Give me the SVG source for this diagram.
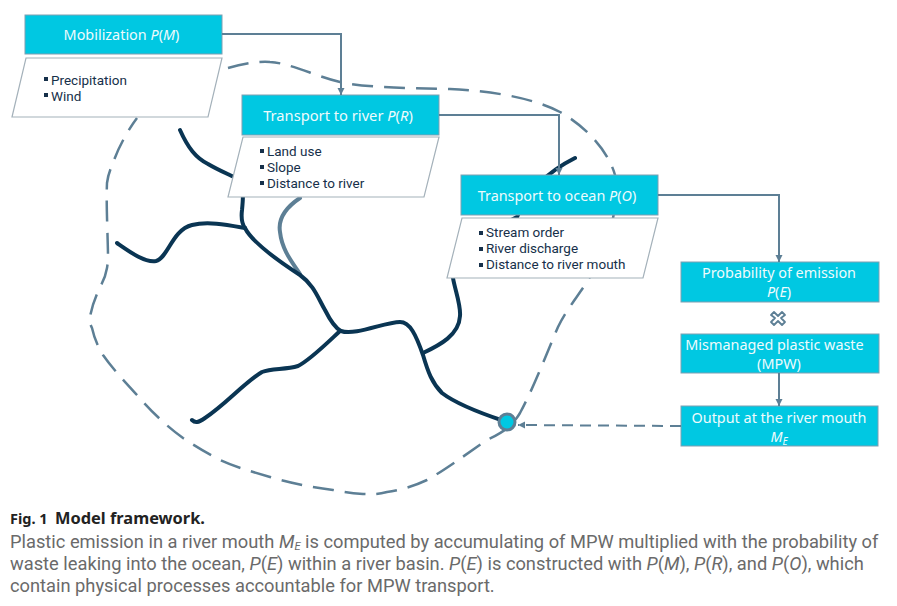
<svg xmlns="http://www.w3.org/2000/svg" width="897" height="606" viewBox="0 0 897 606">
<style>
text{font-family:"Noto Sans","Open Sans","DejaVu Sans",sans-serif}
.box{fill:#00c8e2;stroke:#7f9fb2;stroke-width:1}
.para{fill:#fff;stroke:#a4b1ba;stroke-width:1.2}
.t{fill:#eefbfd;font-size:14.4px;text-anchor:middle}
.li{fill:#16304a;font-family:Roboto,"Noto Sans",sans-serif;font-size:13.5px}
.b{fill:#16304a}
.river{fill:none;stroke:#0a3553;stroke-width:4;stroke-linecap:round;stroke-linejoin:round}
.cap{font-family:Roboto,"Liberation Sans",sans-serif;font-size:18.3px;fill:#6a6a6a}
.conn{fill:none;stroke:#5d7f95;stroke-width:2}
</style>
<defs>
<marker id="a" markerUnits="userSpaceOnUse" markerWidth="8" markerHeight="8" refX="7" refY="4" orient="auto"><path d="M0 0.5L7 4L0 7.5Z" fill="#5d7f95"/></marker>
</defs>
<rect width="897" height="606" fill="#fff"/>
<g id="basin">
<path class="conn" style="stroke-width:2.5" stroke-dasharray="21 11" d="M228 68C242 64 258 61 270 62C290 63 315 76 340 82C362 87 400 88 450 89C480 90 530 96 560 112C585 126 608 150 615 175C620 215 605 250 587 282C575 300 565 312 558 327C548 350 535 385 520 413C510 430 495 436 487 440C465 455 445 470 427 480C410 488 395 491 387 492C375 495 370 494 363 494C350 493 345 492 333 490C310 487 290 483 270 477C250 471 235 467 220 460C205 452 195 446 183 438C165 425 150 410 137 395C125 382 112 368 103 355C97 345 94 337 92 328C89 322 89 320 90 317C92 305 96 296 100 287C104 280 106 274 107 268C108 262 108 258 108 257C108 240 106 205 107 183C108 175 110 170 113 163C118 148 128 130 137 118"/>
</g>
<g id="rivers">
<path class="river" style="stroke:#5d7f95" d="M300 198C285 208 278 220 280 232C282 250 292 262 300 274"/>
<path class="river" d="M180 130C188 148 196 158 208 164C218 170 228 174 240 180C244 190 243 200 242 210C241 218 242 224 245 228C252 242 280 262 300 275C314 285 318 298 325 310C330 320 335 328 341 331C355 336 385 322 400 322C410 322 416 335 423 355C428 372 432 383 442 393C455 403 480 413 504 421"/>
<path class="river" d="M117 243C130 252 145 263 156 261C168 258 172 230 192 225C208 221 228 225 245 228"/>
<path class="river" d="M340 331C325 345 310 360 298 366C285 370 272 368 262 372C245 382 225 405 205 418C198 423 195 423 192 420"/>
<path class="river" d="M575 158C555 168 530 185 517 217C480 235 452 265 453 278C455 290 461 305 460 316C459 335 440 345 423 353"/>
</g>
<g id="n1">
<rect class="box" x="25" y="15" width="197" height="39"/>
<text class="t" x="121.500" y="40">Mobilization <tspan font-style="italic">P</tspan>(<tspan font-style="italic">M</tspan>)</text>
</g>
<g id="n1b">
<polygon class="para" points="26,58 222,58 208,117 12,117"/>
<rect class="b" x="44" y="77" width="4" height="4"/>
<rect class="b" x="44" y="93" width="4" height="4"/>
<text class="li" x="51" y="85">Precipitation</text>
<text class="li" x="51" y="101">Wind</text>
</g>
<g id="n2">
<rect class="box" x="242" y="95" width="197" height="40"/>
<text class="t" x="338" y="121" style="font-size:14.7px">Transport to river <tspan font-style="italic">P</tspan>(<tspan font-style="italic">R</tspan>)</text>
</g>
<g id="n2b">
<polygon class="para" points="243,137 439,137 424,197 228,197"/>
<rect class="b" x="260" y="149" width="4" height="4"/>
<rect class="b" x="260" y="165" width="4" height="4"/>
<rect class="b" x="260" y="181" width="4" height="4"/>
<text class="li" x="267" y="156">Land use</text>
<text class="li" x="267" y="172">Slope</text>
<text class="li" x="267" y="188">Distance to river</text>
</g>
<g id="n3">
<rect class="box" x="461" y="175" width="197" height="40"/>
<text class="t" x="557" y="201">Transport to ocean <tspan font-style="italic">P</tspan>(<tspan font-style="italic">O</tspan>)</text>
</g>
<g id="n3b">
<polygon class="para" points="462,218 658,218 643,278 447,278"/>
<rect class="b" x="479" y="231" width="4" height="4"/>
<rect class="b" x="479" y="247" width="4" height="4"/>
<rect class="b" x="479" y="263" width="4" height="4"/>
<text class="li" x="486" y="237">Stream order</text>
<text class="li" x="486" y="253">River discharge</text>
<text class="li" x="486" y="269">Distance to river mouth</text>
</g>
<g id="n4">
<rect class="box" x="681" y="262" width="198" height="40"/>
<text class="t" x="779" y="278">Probability of emission</text>
<text class="t" x="779" y="297"><tspan font-style="italic">P</tspan>(<tspan font-style="italic">E</tspan>)</text>
</g>
<g id="times">
<path fill="#fff" stroke="#5d7f95" stroke-width="1.8" stroke-linejoin="round" d="M774 312L778 316L782 312L785 315L781 318L785 322L782 325L778 321L774 325L771 322L775 318L771 315Z"/>
</g>
<g id="n5">
<rect class="box" x="681" y="334" width="198" height="39"/>
<text class="t" x="774.500" y="350">Mismanaged plastic waste</text>
<text class="t" x="779" y="369">(MPW)</text>
</g>
<g id="n6">
<rect class="box" x="681" y="406" width="197" height="40"/>
<text class="t" x="779" y="423">Output at the river mouth</text>
<text class="t" x="779" y="442"><tspan font-style="italic">M</tspan><tspan font-style="italic" font-size="10" dy="3">E</tspan></text>
</g>
<g id="mouth">
<circle cx="507" cy="422" r="8" fill="#00c8e2" stroke="#5d7f95" stroke-width="3"/>
</g>
<g id="connectors">
<path class="conn" marker-end="url(#a)" d="M222 34H341V95"/>
<path class="conn" marker-end="url(#a)" d="M439 115H559V175"/>
<path class="conn" marker-end="url(#a)" d="M658 195H779V262"/>
<path class="conn" marker-end="url(#a)" d="M779 373V406"/>
<path class="conn" marker-end="url(#a)" stroke-dasharray="11 7" d="M681 426L518 425"/>
</g>
<g id="caption">
<text x="10" y="524" font-family="Roboto,sans-serif" font-weight="700" font-size="14.500px" fill="#222">Fig. 1</text>
<text x="55" y="524" font-family="Roboto,sans-serif" font-weight="700" font-size="16.400px" fill="#222">Model framework.</text>
<text class="cap" x="10" y="548">Plastic emission in a river mouth <tspan font-style="italic">M</tspan><tspan font-style="italic" font-size="11" dy="2.300">E</tspan><tspan dy="-2.300"> is computed by accumulating of MPW multiplied with the probability of</tspan></text>
<text class="cap" x="10" y="570">waste leaking into the ocean, <tspan font-style="italic">P</tspan>(<tspan font-style="italic">E</tspan>) within a river basin. <tspan font-style="italic">P</tspan>(<tspan font-style="italic">E</tspan>) is constructed with <tspan font-style="italic">P</tspan>(<tspan font-style="italic">M</tspan>), <tspan font-style="italic">P</tspan>(<tspan font-style="italic">R</tspan>), and <tspan font-style="italic">P</tspan>(<tspan font-style="italic">O</tspan>), which</text>
<text class="cap" x="10" y="592">contain physical processes accountable for MPW transport.</text>
</g>
</svg>
